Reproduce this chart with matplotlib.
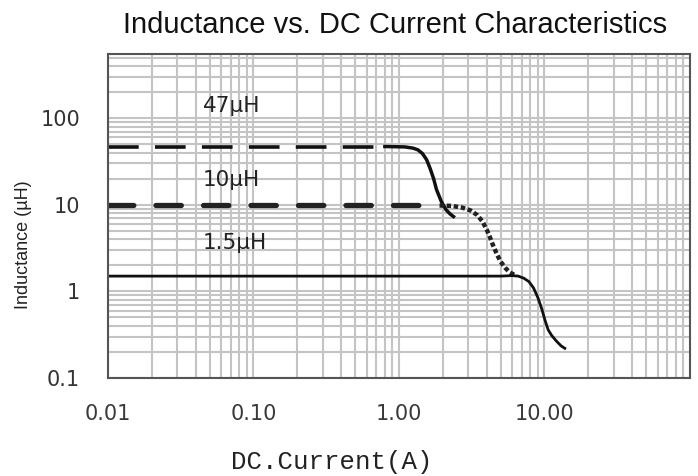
"""Inductance vs. DC current characteristics, three power inductors."""

import matplotlib

matplotlib.use("Agg")
import matplotlib.pyplot as plt
from matplotlib import font_manager
from matplotlib.ticker import FixedLocator, LogLocator, NullFormatter

# 47 uH curve
current_47 = [0.01, 0.8, 1.1, 1.25, 1.35, 1.45, 1.55, 1.64, 1.73, 1.81, 1.95, 2.1, 2.25, 2.37]
ind_47 = [47, 47, 46.5, 45, 43, 39, 33, 26, 20, 15, 11, 8.8, 7.8, 7.3]

# 10 uH curve
current_10 = [0.01, 1.9, 2.3, 2.7, 3.1, 3.45, 3.75, 4.0, 4.2, 4.4, 4.7, 5.0, 5.4, 5.8, 6.2]
ind_10 = [9.8, 9.8, 9.7, 9.3, 8.6, 7.6, 6.4, 5.2, 4.3, 3.5, 2.7, 2.2, 1.85, 1.65, 1.55]

# 1.5 uH curve
current_15 = [0.01, 5.0, 6.0, 6.6, 7.2, 7.8, 8.4, 9.0, 9.6, 10.1, 10.6, 11.2, 12.0, 13.0, 13.8]
ind_15 = [1.5, 1.5, 1.52, 1.5, 1.42, 1.3, 1.1, 0.85, 0.62, 0.46, 0.36, 0.31, 0.27, 0.235, 0.22]

x_ticks = [0.01, 0.1, 1, 10]
x_tick_labels = ["0.01", "0.10", "1.00", "10.00"]
y_ticks = [0.1, 1, 10, 100]
y_tick_labels = ["0.1", "1", "10", "100"]

SANS = ["Liberation Sans", "DejaVu Sans"]
WIDE = ["DejaVu Sans"]


def main() -> None:
    installed = {f.name for f in font_manager.fontManager.ttflist}
    if "Liberation Sans Narrow" in installed:
        ylab_family, ylab_size = ["Liberation Sans Narrow", "DejaVu Sans"], 15.5
    else:
        ylab_family, ylab_size = SANS, 13

    fig = plt.figure(figsize=(6.98, 4.76), dpi=100)
    ax = fig.add_axes([0.1547, 0.2059, 0.8338, 0.6807])
    ax.set_xscale("log")
    ax.set_yscale("log")
    ax.set_xlim(0.01, 100)
    ax.set_ylim(0.1, 550)

    ax.xaxis.set_major_locator(FixedLocator(x_ticks))
    ax.xaxis.set_minor_locator(LogLocator(base=10, subs=range(2, 10), numticks=20))
    ax.yaxis.set_major_locator(FixedLocator(y_ticks))
    ax.yaxis.set_minor_locator(LogLocator(base=10, subs=range(2, 10), numticks=20))
    ax.xaxis.set_minor_formatter(NullFormatter())
    ax.yaxis.set_minor_formatter(NullFormatter())
    ax.set_xticklabels(x_tick_labels, family=WIDE, fontsize=15, color="#3a3a3a")
    ax.set_yticklabels(y_tick_labels, family=WIDE, fontsize=15, color="#333333")
    ax.tick_params(which="both", length=0)
    ax.tick_params(axis="x", pad=19)
    ax.tick_params(axis="y", pad=20)

    ax.grid(True, which="both", color="#c4c4c4", linewidth=1.5)
    ax.set_axisbelow(True)
    for sp in ax.spines.values():
        sp.set_color("#555555")
        sp.set_linewidth(1.5)

    # 47 uH: long dashes on the plateau, solid roll-off
    ax.plot(current_47[:2], ind_47[:2], color="#111111", linewidth=2.6,
            linestyle=(0, (8.5, 4.5)), dash_capstyle="butt")
    ax.plot(current_47[1:], ind_47[1:], color="#111111", linewidth=2.5)

    # 10 uH: heavy short dashes, dotted roll-off
    ax.plot(current_10[:2], ind_10[:2], color="#222222", linewidth=3.8,
            linestyle=(0, (4.8, 4.2)), dash_capstyle="round")
    ax.plot(current_10[1:], ind_10[1:], color="#222222", linewidth=3.2,
            linestyle=(0, (1, 0.6)))

    # 1.5 uH: solid
    ax.plot(current_15, ind_15, color="#111111", linewidth=2)

    for x, y, s in [(0.045, 117, "47µH"), (0.045, 16.5, "10µH"), (0.045, 3.12, "1.5µH")]:
        ax.text(x, y, s, family=WIDE, fontsize=15.5, va="baseline", color="#222222")

    fig.text(0.566, 0.931, "Inductance vs. DC Current Characteristics",
             family=SANS, fontsize=21, ha="center", va="baseline", color="#111111")
    fig.text(0.033, 0.485, "Inductance (µH)", family=ylab_family, fontsize=ylab_size,
             rotation=90, ha="center", va="center", color="#222222")
    fig.text(0.476, 0.0147, "DC.Current(A)", family=["Liberation Mono", "DejaVu Sans Mono"],
             fontsize=18.5, ha="center", va="baseline", color="#222222")

    fig.savefig("out.png", dpi=100)


if __name__ == "__main__":
    main()
